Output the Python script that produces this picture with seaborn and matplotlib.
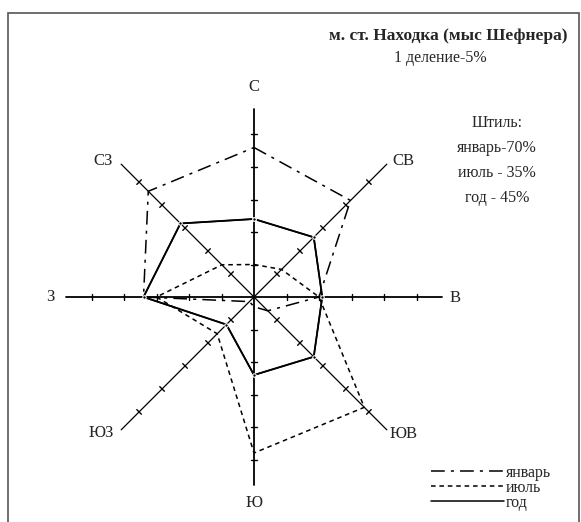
import numpy as np
import pandas as pd
import matplotlib
matplotlib.use("Agg")
import matplotlib.pyplot as plt
import seaborn as sns

# data: wind rose, % of observations by direction
directions = ["С", "СВ", "В", "ЮВ", "Ю", "ЮЗ", "З", "СЗ"]
angles_deg = [90, 45, 0, -45, -90, -135, 180, 135]
january = [23, 21, 10, 3, 1.5, 1, 17, 23]
july = [5, 6, 10, 24, 24, 8, 15, 7]
year = [12, 13, 10.5, 13, 12, 6, 17, 16]
calm_lines = ["Штиль:", "январь-70%", "июль - 35%", "год - 45%"]
tick_steps = [5, 10, 15, 20, 25]
axis_len = 28.9

sns.set_style("white")
plt.rcParams['font.family'] = ['Liberation Serif', 'DejaVu Serif']

W, H = 581, 522
cx, cy, scale = 254, 297, 6.5   # center pixel, px per 1 %

fig = plt.figure(figsize=(W / 100, H / 100), dpi=100)
ax = fig.add_axes([0, 0, 1, 1])
ax.set_xlim(-cx / scale, (W - cx) / scale)
ax.set_ylim(-(H - cy) / scale, cy / scale)
ax.axis("off")

def fxy(x, y):
    return x / W, 1 - y / H

# frame
fig.patches.append(plt.Rectangle(fxy(8, 531), (579 - 8) / W, (531 - 13) / H,
                                 transform=fig.transFigure, fill=False,
                                 edgecolor="#555555", linewidth=1.2))

rad = np.deg2rad(angles_deg)

# axes with tick marks
for i, a in enumerate(rad):
    ux, uy = np.cos(a), np.sin(a)
    ax.plot([0, axis_len * ux], [0, axis_len * uy], color="black",
            lw=1.3 if i % 2 == 0 else 0.9)
    px, py = -uy, ux
    for t in tick_steps:
        ax.plot([t * ux - 0.5 * px, t * ux + 0.5 * px],
                [t * uy - 0.5 * py, t * uy + 0.5 * py], color="black", lw=1)

# direction labels (pixel positions)
label_pos = {"С": (254, 87), "СВ": (403, 161), "В": (455, 298), "ЮВ": (404, 434),
             "Ю": (254, 503), "ЮЗ": (101, 433), "З": (50, 297), "СЗ": (103, 161)}
for d in directions:
    x, y = fxy(*label_pos[d])
    fig.text(x, y, d, ha="center", va="center", fontsize=12)

# polygons
rows = []
for name, vals in [("январь", january), ("июль", july), ("год", year)]:
    vv = list(vals) + [vals[0]]
    aa = list(rad) + [rad[0]]
    for k, (v, a) in enumerate(zip(vv, aa)):
        rows.append({"series": name, "order": k,
                     "x": v * np.cos(a), "y": v * np.sin(a)})
df = pd.DataFrame(rows)

sns.lineplot(data=df, x="x", y="y", hue="series", style="series",
             palette={"январь": "black", "июль": "black", "год": "black"},
             dashes={"январь": (9, 4, 2, 4), "июль": (3, 2.5), "год": ""},
             sort=False, estimator=None, units="series",
             linewidth=1.1, ax=ax)
sns.lineplot(data=df[df.series == "год"], x="x", y="y", sort=False,
             estimator=None, color="black", linewidth=1.3, marker="o",
             markersize=2.5, ax=ax, legend=False)

sns.move_legend(ax, loc="lower right", bbox_to_anchor=fxy(551, 511),
                bbox_transform=fig.transFigure, frameon=False, title=None,
                fontsize=11.5, handlelength=4.6, handletextpad=0.1,
                labelspacing=-0.05, borderaxespad=0, borderpad=0)

# titles
x, y = fxy(448, 36)
fig.text(x, y, "м. ст. Находка (мыс Шефнера)", ha="center", va="center",
         fontsize=12.5, fontweight="bold")
x, y = fxy(440, 58)
fig.text(x, y, "1 деление-5%", ha="center", va="center", fontsize=11.5)

for k, s in enumerate(calm_lines):
    x, y = fxy(497, 123 + 25 * k)
    fig.text(x, y, s, ha="center", va="center", fontsize=11.5)

fig.savefig("out.png", dpi=100)
